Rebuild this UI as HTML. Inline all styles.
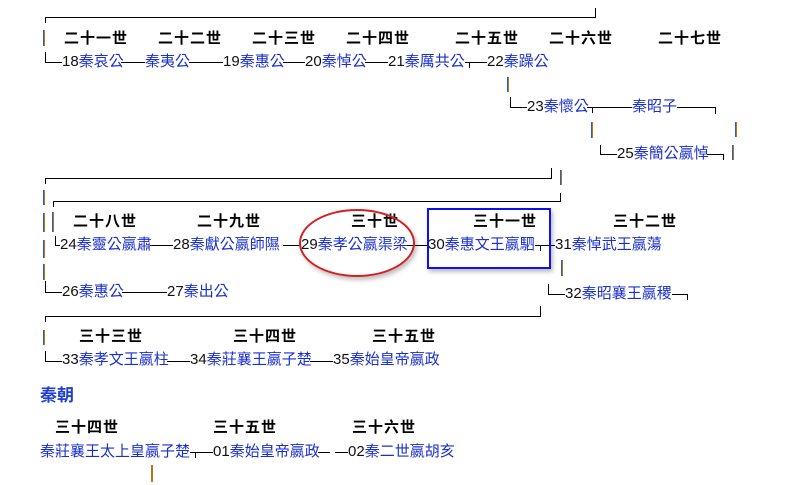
<!DOCTYPE html>
<html><head><meta charset="utf-8"><style>
body{margin:0;background:#fff;width:797px;height:485px;overflow:hidden;position:relative;font-family:"Liberation Sans","Noto Sans CJK TC","Noto Sans CJK SC",sans-serif}
.t{position:absolute;font-size:15px;line-height:18px;white-space:nowrap;color:#1a2fd0}
.t b{font-weight:normal;color:#111}
.h{position:absolute;font-size:15px;line-height:18px;font-weight:bold;letter-spacing:1px;color:#000;white-space:nowrap;font-family:"Liberation Sans","Noto Sans CJK SC",sans-serif}
.hl{position:absolute;height:1px;background:#000}
.vl{position:absolute;width:1px;background:#000}
.vo{position:absolute;width:2px;background:linear-gradient(90deg,#2a5fc0 50%,#b8741a 50%)}
</style></head><body>
<!-- Row 1 -->
<div class="hl" style="left:45px;top:17px;width:551px"></div>
<div class="vl" style="left:595px;top:8px;height:10px"></div>
<div class="vl" style="left:45px;top:17px;height:6px"></div>
<div class="vo" style="left:43px;top:30px;height:16px"></div>
<div class="h" style="left:64px;top:30px">二十一世</div>
<div class="h" style="left:158px;top:30px">二十二世</div>
<div class="h" style="left:252px;top:30px">二十三世</div>
<div class="h" style="left:346px;top:30px">二十四世</div>
<div class="h" style="left:455px;top:30px">二十五世</div>
<div class="h" style="left:549px;top:30px">二十六世</div>
<div class="h" style="left:658px;top:30px">二十七世</div>
<div class="vl" style="left:45px;top:52px;height:10px"></div>
<div class="hl" style="left:45px;top:62px;width:17px"></div>
<div class="t" style="left:62px;top:53px"><b>18</b>秦哀公</div>
<div class="hl" style="left:121px;top:62px;width:24px"></div>
<div class="t" style="left:145px;top:53px">秦夷公</div>
<div class="hl" style="left:189px;top:62px;width:34px"></div>
<div class="t" style="left:223px;top:53px"><b>19</b>秦惠公</div>
<div class="hl" style="left:283px;top:62px;width:22px"></div>
<div class="t" style="left:305px;top:53px"><b>20</b>秦悼公</div>
<div class="hl" style="left:365px;top:62px;width:23px"></div>
<div class="t" style="left:388px;top:53px"><b>21</b>秦厲共公</div>
<div class="hl" style="left:465px;top:62px;width:22px"></div>
<div class="vl" style="left:469px;top:62px;height:6px"></div>
<div class="t" style="left:487px;top:53px"><b>22</b>秦躁公</div>
<div class="vo" style="left:507px;top:77px;height:15px"></div>
<div class="vl" style="left:510px;top:97px;height:10px"></div>
<div class="hl" style="left:510px;top:107px;width:17px"></div>
<div class="t" style="left:527px;top:98px"><b>23</b>秦懷公</div>
<div class="hl" style="left:587px;top:107px;width:45px"></div>
<div class="vl" style="left:592px;top:107px;height:6px"></div>
<div class="t" style="left:632px;top:98px">秦昭子</div>
<div class="hl" style="left:677px;top:107px;width:39px"></div>
<div class="vl" style="left:715px;top:107px;height:7px"></div>
<div class="vo" style="left:591px;top:122px;height:16px"></div>
<div class="vo" style="left:735px;top:122px;height:15px"></div>
<div class="vo" style="left:732px;top:145px;height:15px"></div>
<div class="vl" style="left:600px;top:145px;height:9px"></div>
<div class="hl" style="left:600px;top:154px;width:17px"></div>
<div class="t" style="left:617px;top:145px"><b>25</b>秦簡公嬴悼</div>
<div class="hl" style="left:707px;top:154px;width:17px"></div>
<div class="vl" style="left:723px;top:154px;height:6px"></div>
<!-- Row 2 -->
<div class="hl" style="left:45px;top:178px;width:507px"></div>
<div class="vl" style="left:551px;top:168px;height:10px"></div>
<div class="vl" style="left:45px;top:178px;height:6px"></div>
<div class="vo" style="left:560px;top:170px;height:15px"></div>
<div class="hl" style="left:53px;top:201px;width:508px"></div>
<div class="vl" style="left:560px;top:193px;height:8px"></div>
<div class="vl" style="left:53px;top:201px;height:6px"></div>
<div class="vo" style="left:43px;top:190px;height:15px"></div>
<div class="vo" style="left:43px;top:213px;height:19px"></div>
<div class="vo" style="left:43px;top:240px;height:18px"></div>
<div class="vo" style="left:43px;top:264px;height:16px"></div>
<div class="vo" style="left:52px;top:212px;height:20px"></div>
<div class="h" style="left:73px;top:213px">二十八世</div>
<div class="h" style="left:197px;top:213px">二十九世</div>
<div class="h" style="left:351px;top:213px">三十世</div>
<div class="h" style="left:473px;top:213px">三十一世</div>
<div class="h" style="left:613px;top:213px">三十二世</div>
<div class="vl" style="left:55px;top:236px;height:9px"></div>
<div class="hl" style="left:55px;top:245px;width:5px"></div>
<div class="t" style="left:60px;top:236px"><b>24</b>秦靈公嬴肅</div>
<div class="hl" style="left:150px;top:245px;width:23px"></div>
<div class="t" style="left:173px;top:236px"><b>28</b>秦獻公嬴師隰</div>
<div class="hl" style="left:283px;top:245px;width:18px"></div>
<div class="t" style="left:301px;top:236px"><b>29</b>秦孝公嬴渠梁</div>
<div class="hl" style="left:407px;top:245px;width:21px"></div>
<div class="t" style="left:428px;top:236px"><b>30</b>秦惠文王嬴駟</div>
<div class="hl" style="left:535px;top:245px;width:20px"></div>
<div class="vl" style="left:540px;top:245px;height:6px"></div>
<div class="t" style="left:555px;top:236px"><b>31</b>秦悼武王嬴蕩</div>
<div style="position:absolute;left:299px;top:209px;width:116px;height:68px;border:2px solid #d42020;border-radius:50%;box-sizing:border-box;box-shadow:2px 3px 4px rgba(0,0,0,0.25)"></div>
<div style="position:absolute;left:427px;top:208px;width:124px;height:61px;border:2px solid #1010e8;box-sizing:border-box;box-shadow:2px 3px 4px rgba(0,0,0,0.25)"></div>
<div class="vo" style="left:561px;top:260px;height:16px"></div>
<div class="vl" style="left:548px;top:284px;height:10px"></div>
<div class="hl" style="left:548px;top:294px;width:17px"></div>
<div class="t" style="left:565px;top:285px"><b>32</b>秦昭襄王嬴稷</div>
<div class="hl" style="left:672px;top:294px;width:16px"></div>
<div class="vl" style="left:687px;top:294px;height:6px"></div>
<div class="vl" style="left:45px;top:281px;height:11px"></div>
<div class="hl" style="left:45px;top:292px;width:17px"></div>
<div class="t" style="left:62px;top:283px"><b>26</b>秦惠公</div>
<div class="hl" style="left:122px;top:292px;width:45px"></div>
<div class="t" style="left:167px;top:283px"><b>27</b>秦出公</div>
<!-- Row 3 -->
<div class="hl" style="left:45px;top:316px;width:496px"></div>
<div class="vl" style="left:540px;top:306px;height:10px"></div>
<div class="vl" style="left:45px;top:316px;height:6px"></div>
<div class="vo" style="left:43px;top:330px;height:15px"></div>
<div class="h" style="left:79px;top:328px">三十三世</div>
<div class="h" style="left:233px;top:328px">三十四世</div>
<div class="h" style="left:372px;top:328px">三十五世</div>
<div class="vl" style="left:45px;top:351px;height:10px"></div>
<div class="hl" style="left:45px;top:361px;width:17px"></div>
<div class="t" style="left:62px;top:351px"><b>33</b>秦孝文王嬴柱</div>
<div class="hl" style="left:167px;top:361px;width:23px"></div>
<div class="t" style="left:190px;top:351px"><b>34</b>秦莊襄王嬴子楚</div>
<div class="hl" style="left:310px;top:361px;width:23px"></div>
<div class="t" style="left:333px;top:351px"><b>35</b>秦始皇帝嬴政</div>
<!-- Qin dynasty -->
<div class="t" style="left:40px;top:386px;font-size:17px;line-height:20px;font-weight:bold;color:#1f3fd0">秦朝</div>
<div class="h" style="left:55px;top:419px">三十四世</div>
<div class="h" style="left:213px;top:419px">三十五世</div>
<div class="h" style="left:352px;top:419px">三十六世</div>
<div class="t" style="left:40px;top:443px">秦莊襄王太上皇嬴子楚</div>
<div class="hl" style="left:190px;top:452px;width:23px"></div>
<div class="vl" style="left:195px;top:452px;height:6px"></div>
<div class="t" style="left:213px;top:443px"><b>01</b>秦始皇帝嬴政</div>
<div class="hl" style="left:318px;top:452px;width:12px"></div>
<div class="hl" style="left:335px;top:452px;width:13px"></div>
<div class="t" style="left:348px;top:443px"><b>02</b>秦二世嬴胡亥</div>
<div class="vo" style="left:151px;top:465px;height:17px;background:#b8741a;width:2px"></div>
</body></html>
